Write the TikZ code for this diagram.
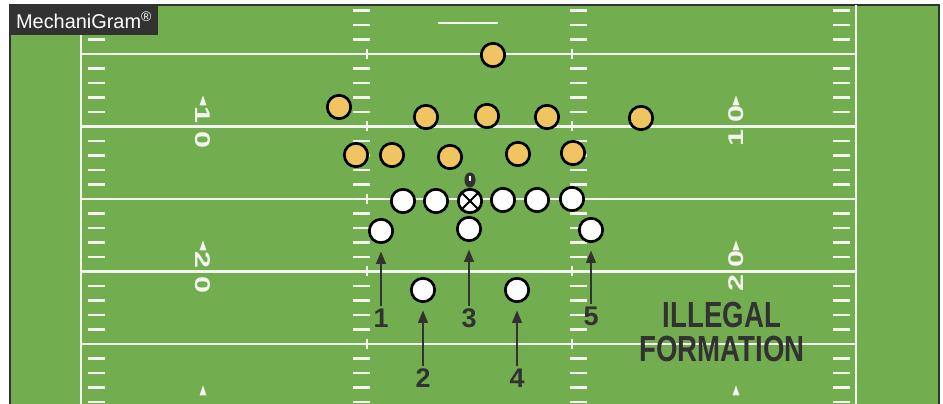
\documentclass[tikz,border=0pt]{standalone}
\usepackage{fontspec}
\setmainfont{Liberation Sans}
\definecolor{turf}{RGB}{114,174,80}
\definecolor{chalk}{RGB}{243,245,238}
\definecolor{defgold}{RGB}{240,196,96}
\definecolor{inkgray}{RGB}{50,50,50}
\usetikzlibrary{arrows.meta, shapes.geometric, positioning}

\begin{document}
\begin{tikzpicture}[
        x=0.03cm, y=-0.03cm,
        yardline/.style={draw=chalk, line width=2.4pt},
        hashmark/.style={draw=chalk, line width=2.2pt},
        defman/.style={circle, draw=black, line width=2.3pt, fill=defgold,
                       minimum size=20pt, inner sep=0pt},
        offman/.style={circle, draw=black, line width=2.3pt, fill=white,
                       minimum size=20pt, inner sep=0pt},
        numlbl/.style={text=inkgray, inner sep=2pt,
                       font=\fontsize{23}{23}\selectfont\bfseries},
        yardnum/.style={text=chalk, inner sep=0pt, xscale=0.7, transform shape,
                        font=\fontsize{26}{26}\selectfont\bfseries},
        arr/.style={-{Triangle[length=11pt, width=8pt]}, line width=2.5pt,
                    draw=inkgray, shorten >=6pt}
      ]
        \useasboundingbox[fill=white] (0,0) rectangle (943,404);
        \fill[turf] (10,5) rectangle (939,404);
        \draw[inkgray, line width=1.2pt] (10,404) -- (10,5) -- (939,5) -- (939,404);

        \draw[yardline] (81,5) -- (81,404);
        \draw[yardline] (856,5) -- (856,404);
        \foreach \y in {54,126.5,199,271.5,344} {
          \draw[yardline] (81,\y) -- (856,\y);
          \draw[hashmark, line width=1.4pt] (367,\y-5) -- (367,\y+5);
          \draw[hashmark, line width=1.4pt] (572,\y-5) -- (572,\y+5);
        }
        \foreach \k in {-3,-2,-1,1,2,3,4,6,7,8,9,11,12,13,14,16,17,18,19,21,22,23,24} {
          \draw[hashmark] (88,{54+14.5*\k}) -- (105,{54+14.5*\k});
          \draw[hashmark] (353,{54+14.5*\k}) -- (370,{54+14.5*\k});
          \draw[hashmark] (570,{54+14.5*\k}) -- (587,{54+14.5*\k});
          \draw[hashmark] (833,{54+14.5*\k}) -- (850,{54+14.5*\k});
        }
        \draw[hashmark] (438,23) -- (498,23);

        \foreach \y in {126.5,271.5,416.5} {
          \fill[chalk] (199.5,\y-21) -- (206.5,\y-21) -- (203,\y-31) -- cycle;
          \fill[chalk] (732.5,\y-21) -- (739.5,\y-21) -- (736,\y-31) -- cycle;
        }
        \node[yardnum, rotate=-90] (ltena) at (203,115) {1};
        \node[yardnum, rotate=-90] (ltenb) at (203,140) {0};
        \node[yardnum, rotate=90] (rtena) at (736,114) {0};
        \node[yardnum, rotate=90] (rtenb) at (736,138) {1};
        \node[yardnum, rotate=-90] (ltwentya) at (203,260) {2};
        \node[yardnum, rotate=-90] (ltwentyb) at (203,285) {0};
        \node[yardnum, rotate=90] (rtwentya) at (736,259) {0};
        \node[yardnum, rotate=90] (rtwentyb) at (736,283) {2};

        \node[fill=inkgray, text=white, anchor=north west, inner xsep=5pt,
              minimum height=25.5pt, font=\fontsize{17}{17}\selectfont] (brand)
          at (10,5) {MechaniGram\textsuperscript{®}};

        \node[defman] (safety) at (493,55) {};
        \node[defman] (cbleft) at (339,107) {};
        \node[defman] (lbone) at (426,117) {};
        \node[defman] (lbtwo) at (487,116) {};
        \node[defman] (lbthree) at (547,117) {};
        \node[defman] (cbright) at (641,118) {};
        \node[defman] (dlone) at (356,155) {};
        \node[defman] (dltwo) at (392,155) {};
        \node[defman] (dlthree) at (450,157) {};
        \node[defman] (dlfour) at (518,154) {};
        \node[defman] (dlfive) at (573,153) {};

        \node[ellipse, fill=inkgray, minimum width=9.5pt, minimum height=13pt,
              inner sep=0pt] (ball) at (470,180) {};
        \draw[white, line width=0.9pt] ([yshift=3pt]ball.center) -- ([yshift=-1pt]ball.center);

        \node[offman] (ltackle) at (403,201) {};
        \node[offman] (lguard) at (436,201) {};
        \node[offman] (center) at (470,201) {};
        \draw[black, line width=1.7pt] (center.45) -- (center.225);
        \draw[black, line width=1.7pt] (center.135) -- (center.315);
        \node[offman] (rguard) at (503,200) {};
        \node[offman] (rtackle) at (537,200) {};
        \node[offman] (rend) at (572,199) {};

        \node[offman] (back1) at (381,231) {};
        \node[offman] (back3) at (469,229) {};
        \node[offman] (back5) at (591,230) {};
        \node[offman] (back2) at (423,290) {};
        \node[offman] (back4) at (517,290) {};

        \node[numlbl] (lbl1) at (381,318) {1};
        \node[numlbl] (lbl2) at (423,378) {2};
        \node[numlbl] (lbl3) at (469,318) {3};
        \node[numlbl] (lbl4) at (517,378) {4};
        \node[numlbl] (lbl5) at (591,316) {5};
        \draw[arr] (lbl1) -- (back1);
        \draw[arr] (lbl2) -- (back2);
        \draw[arr] (lbl3) -- (back3);
        \draw[arr] (lbl4) -- (back4);
        \draw[arr] (lbl5) -- (back5);

        \node[text=inkgray, align=center, xscale=0.76, transform shape,
              font=\fontsize{31}{29.8}\selectfont\bfseries] (verdict)
          at (722,332) {ILLEGAL\\FORMATION};
      \end{tikzpicture}
\end{document}
